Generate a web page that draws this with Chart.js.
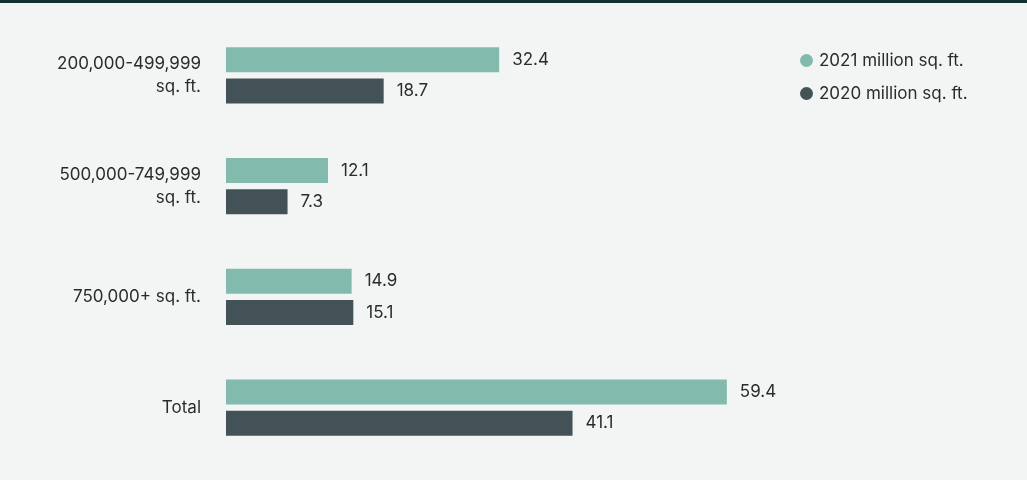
<!DOCTYPE html>
<html><head><meta charset="utf-8">
<script src="https://cdn.jsdelivr.net/npm/chart.js@4"></script>
<style>
body{margin:0;background:#f3f5f4;font-family:Inter,"Noto Sans",sans-serif}
#wrap{position:relative;width:1027px;height:480px;border-top:3px solid #12302f;box-sizing:border-box}
#legend{position:absolute;left:800px;top:41px;font-size:17px;color:#2b2b2b;line-height:33px}
#legend span{display:inline-block;width:13px;height:13px;border-radius:50%;margin-right:6px;vertical-align:-1px}
</style></head><body>
<div id="wrap"><canvas id="c" width="1027" height="477"></canvas>
<div id="legend"><div><span style="background:#82bbad"></span>2021 million sq. ft.</div><div><span style="background:#435256"></span>2020 million sq. ft.</div></div></div>
<script>
const categories = [["200,000-499,999","sq. ft."],["500,000-749,999","sq. ft."],"750,000+ sq. ft.","Total"];
const values2021 = [32.4, 12.1, 14.9, 59.4];
const values2020 = [18.7, 7.3, 15.1, 41.1];

const FONT = "17px Inter, 'Noto Sans', sans-serif";

const labelsPlugin = {
  id: "labelsPlugin",
  afterDatasetsDraw(chart) {
    const ctx = chart.ctx;
    ctx.save();
    ctx.font = FONT;
    ctx.fillStyle = "#2b2b2b";
    ctx.textBaseline = "middle";
    chart.data.datasets.forEach((ds, i) => {
      chart.getDatasetMeta(i).data.forEach((bar, j) => {
        ctx.textAlign = "left";
        ctx.fillText(ds.data[j].toFixed(1), bar.x + 13, bar.y);
      });
    });
    const y = chart.scales.y;
    ctx.textAlign = "right";
    chart.data.labels.forEach((lab, i) => {
      const lines = Array.isArray(lab) ? lab : [lab];
      const cy = y.getPixelForValue(i);
      lines.forEach((t, k) => {
        ctx.fillText(t, 201, cy + (k - (lines.length - 1) / 2) * 23);
      });
    });
    ctx.restore();
  }
};

new Chart(document.getElementById("c"), {
  type: "bar",
  data: {
    labels: categories,
    datasets: [
      {label: "2021 million sq. ft.", data: values2021, backgroundColor: "#82bbad", categoryPercentage: 0.564, barPercentage: 0.8},
      {label: "2020 million sq. ft.", data: values2020, backgroundColor: "#435256", categoryPercentage: 0.564, barPercentage: 0.8}
    ]
  },
  options: {
    indexAxis: "y",
    responsive: false,
    animation: false,
    layout: {padding: {top: 17, bottom: 17, left: 226, right: 0}},
    plugins: {legend: {display: false}, tooltip: {enabled: false}},
    scales: {
      x: {display: false, min: 0, max: 95},
      y: {display: false}
    }
  },
  plugins: [labelsPlugin]
});
</script>
</body></html>
